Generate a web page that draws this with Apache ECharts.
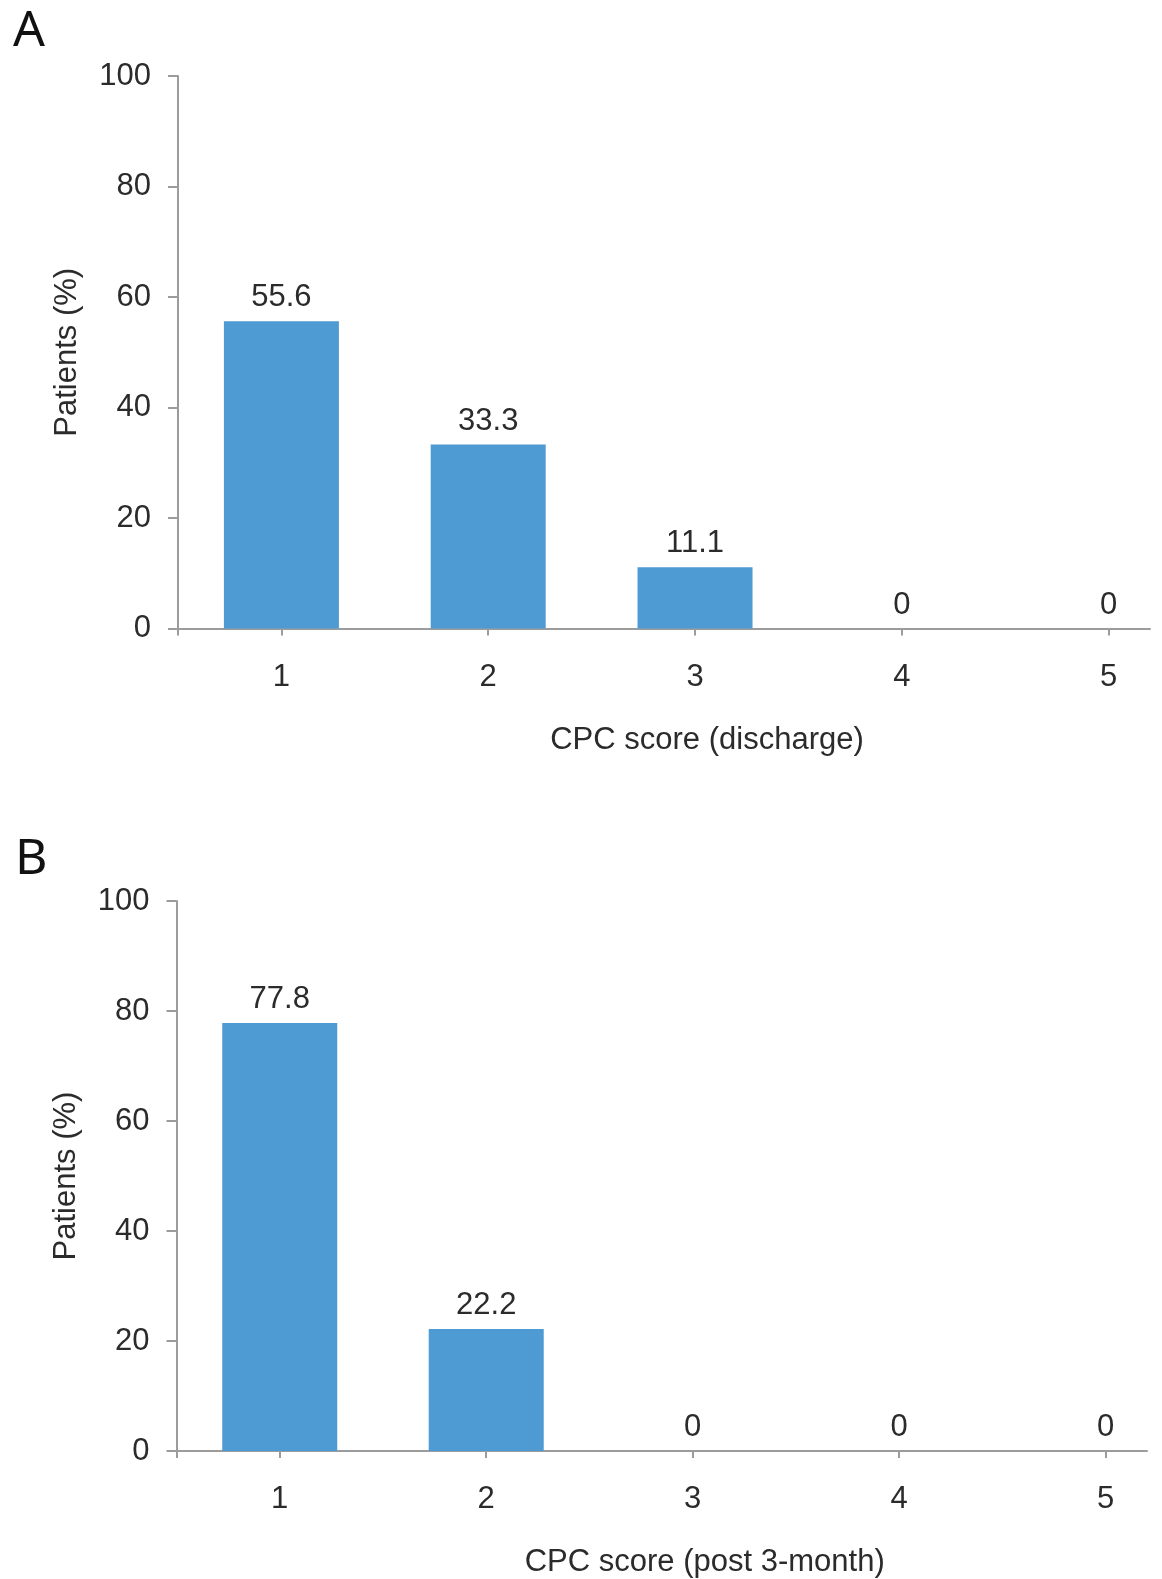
<!DOCTYPE html>
<html>
<head>
<meta charset="utf-8">
<script src="https://cdn.jsdelivr.net/npm/echarts@6/dist/echarts.min.js"></script>
<style>
html,body{margin:0;padding:0;background:#fff;}
#chart{width:1162px;height:1579px;}
</style>
</head>
<body>
<div id="chart"></div>
<script>
const categories = [1, 2, 3, 4, 5];
const dischargeValues = [55.6, 33.3, 11.1, 0, 0];
const threeMonthValues = [77.8, 22.2, 0, 0, 0];
const panelLabels = ['A', 'B'];
const xAxisNames = ['CPC score (discharge)', 'CPC score (post 3-month)'];
const yAxisName = 'Patients (%)';

const FONT = "'Liberation Sans', Arial, sans-serif";
const FS = 31;
const TXT = '#2b2b2b';
const AX = '#9c9c9c';
const BAR = '#4e9bd3';

function xAxisFor(idx, name) {
  return {
    type: 'value', gridIndex: idx, min: 0.5, max: 5.2,
    name: name, nameLocation: 'middle', nameGap: 96,
    nameTextStyle: { fontFamily: FONT, fontSize: FS, color: TXT, padding: [0, 0, 0, 86] },
    splitLine: { show: false },
    axisLine: { show: true, lineStyle: { color: AX, width: 2 } },
    axisTick: { show: true, length: 7, lineStyle: { color: AX, width: 2 }, customValues: [0.5].concat(categories) },
    axisLabel: { fontFamily: FONT, fontSize: FS, color: TXT, margin: 33, customValues: categories, formatter: v => String(v) }
  };
}
function yAxisFor(idx) {
  return {
    type: 'value', gridIndex: idx, min: 0, max: 100, interval: 20,
    name: yAxisName, nameLocation: 'middle', nameGap: 95,
    nameTextStyle: { fontFamily: FONT, fontSize: FS, color: TXT },
    splitLine: { show: false },
    axisLine: { show: true, lineStyle: { color: AX, width: 2 } },
    axisTick: { show: true, length: 10, lineStyle: { color: AX, width: 2 } },
    axisLabel: { fontFamily: FONT, fontSize: FS, color: TXT, margin: 27, padding: [3, 0, 0, 0] }
  };
}
function barSeries(idx, values) {
  return {
    type: 'bar', xAxisIndex: idx, yAxisIndex: idx,
    data: categories.map((c, i) => [c, values[i]]),
    barWidth: 115,
    itemStyle: { color: BAR },
    label: { show: true, position: 'top', distance: 8, fontFamily: FONT, fontSize: FS, color: TXT,
             formatter: p => String(p.value[1]) },
    silent: true
  };
}

const chart = echarts.init(document.getElementById('chart'), null, { renderer: 'canvas' });
chart.setOption({
  animation: false,
  backgroundColor: '#fff',
  title: [
    { text: panelLabels[0], left: 8, top: 2, textStyle: { fontFamily: "'Noto Sans', sans-serif", fontSize: 50, fontWeight: 'normal', color: '#111' } },
    { text: panelLabels[1], left: 10, top: 830, textStyle: { fontFamily: "'Noto Sans', sans-serif", fontSize: 50, fontWeight: 'normal', color: '#111' } }
  ],
  grid: [
    { left: 178, top: 76, width: 972, height: 552.5 },
    { left: 176.5, top: 901, width: 970.5, height: 553 }
  ],
  xAxis: [xAxisFor(0, xAxisNames[0]), xAxisFor(1, xAxisNames[1])],
  yAxis: [yAxisFor(0), yAxisFor(1)],
  series: [barSeries(0, dischargeValues), barSeries(1, threeMonthValues)]
});
</script>
</body>
</html>
